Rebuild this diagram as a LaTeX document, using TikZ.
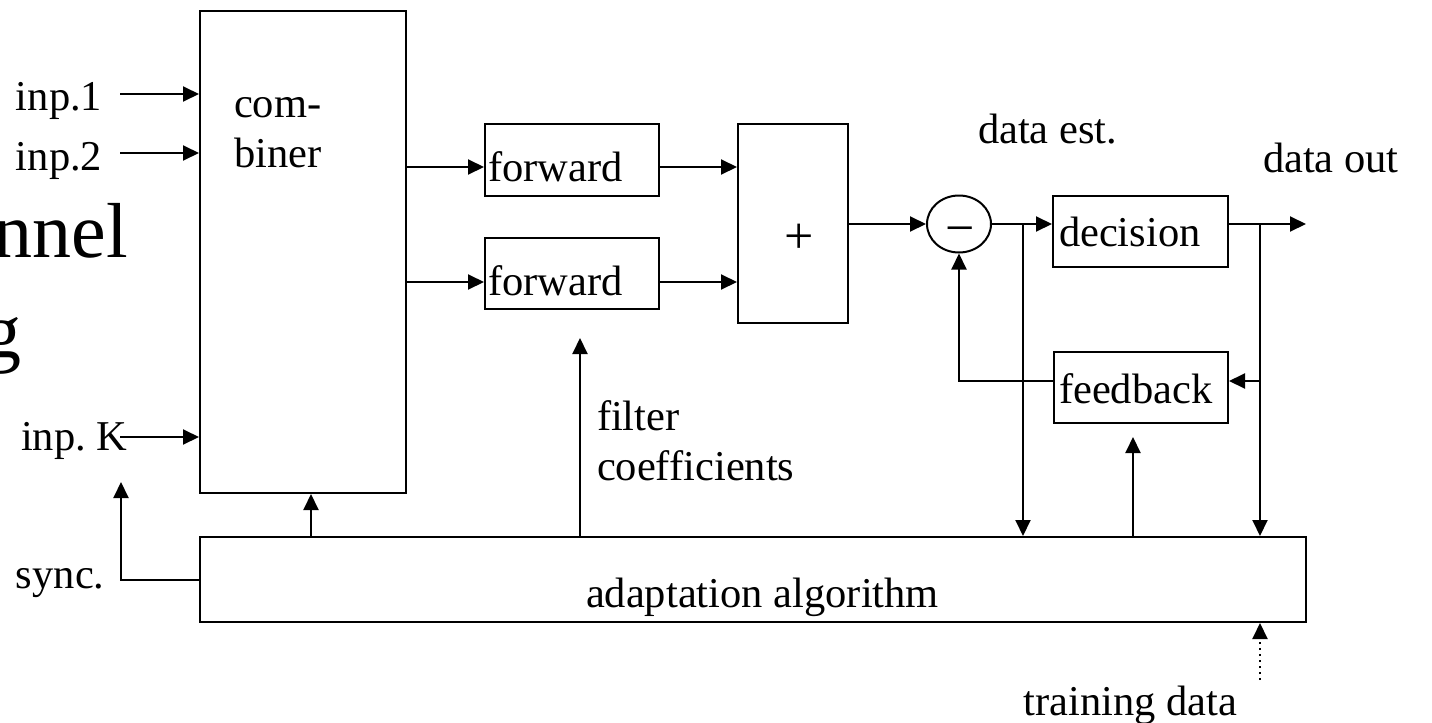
\documentclass[tikz,border=0pt]{standalone}
\usepackage{fontspec}
\setmainfont{Liberation Serif}
\usetikzlibrary{arrows.meta,shapes.geometric,calc}
\begin{document}
\frenchspacing
\begin{tikzpicture}[x=0.5pt,y=-0.5pt,
  line width=1pt,
  arr/.style={-{Triangle[length=8pt,width=7.5pt]}},
  blk/.style={draw,rectangle,inner sep=0pt,line width=1pt},
  lbl/.style={inner sep=0pt,font=\fontsize{21.25pt}{25pt}\selectfont},
  sym/.style={inner sep=0pt,font=\fontsize{26pt}{30pt}\selectfont},
  big/.style={inner sep=0pt,font=\fontsize{39pt}{46pt}\selectfont}]
\useasboundingbox (0,0) rectangle (1432,723);
\clip (0,0) rectangle (1432,723);

% title fragments at the left margin
\node[big,anchor=base east] (t1) at (129,257) {nnel};
\node[big,anchor=base east] (t2) at (22,357) {g};

% blocks
\node[blk,minimum width=103pt,minimum height=241pt] (comb) at (303,252) {};
\node[blk,minimum width=87pt,minimum height=36pt] (fwd1) at (572,160) {};
\node[blk,minimum width=87pt,minimum height=35.5pt] (fwd2) at (572,273.5) {};
\node[blk,minimum width=55pt,minimum height=99.5pt] (plus) at (793,223.5) {};
\node[draw,ellipse,inner sep=0pt,minimum width=32pt,minimum height=28.5pt] (sub) at (959,224) {};
\node[blk,minimum width=87.5pt,minimum height=35.5pt] (dec) at (1140.5,231.5) {};
\node[blk,minimum width=87pt,minimum height=35.5pt] (fb) at (1141,387.5) {};
\node[blk,minimum width=553pt,minimum height=42.5pt] (adapt) at (753,579.5) {};

% block texts
\node[lbl,anchor=base west] (tc1) at (233,117) {com-};
\node[lbl,anchor=base west] (tc2) at (233,167) {biner};
\node[lbl,anchor=base west] (tf1) at (487,181) {forward};
\node[lbl,anchor=base west] (tf2) at (487,295) {forward};
\node[sym,anchor=base] (tp) at (799,253) {+};
\node[sym,anchor=base] (tm) at (960,245) {−};
\node[lbl,anchor=base west] (td) at (1058,246) {decision};
\node[lbl,anchor=base west] (tfb) at (1058,403) {feedback};
\node[lbl,anchor=base west] (ta) at (585,607) {adaptation algorithm};

% free labels
\node[lbl,anchor=base west] (lin1) at (15,110) {inp.1};
\node[lbl,anchor=base west] (lin2) at (15,170) {inp.2};
\node[lbl,anchor=base west] (linK) at (20,450) {inp. K};
\node[lbl,anchor=base west] (lsync) at (15,588) {sync.};
\node[lbl,anchor=base west] (lfil) at (596,430) {filter};
\node[lbl,anchor=base west] (lcoef) at (596,480) {coefficients};
\node[lbl,anchor=base west] (lest) at (977,143) {data est.};
\node[lbl,anchor=base west] (lout) at (1262,172) {data out};
\node[lbl,anchor=base east] (ltr) at (1238,715) {training data};

% connector ends
\coordinate (s1) at (120,94);
\coordinate (s2) at (120,153);
\coordinate (sK) at (120,437);
\coordinate (b1) at (1023,224);
\coordinate (b2) at (1260,224);
\coordinate (out) at (1306,224);
\coordinate (fbtip) at (1133,437);
\coordinate (fctip) at (580,338);
\coordinate (cbx) at (311,0);
\coordinate (synctip) at (121,482);
\coordinate (train) at (1260,680);

% inputs to the combiner
\draw[arr] (s1) -- (s1 -| comb.west);
\draw[arr] (s2) -- (s2 -| comb.west);
\draw[arr] (sK) -- (sK -| comb.west);

% combiner to forward filters, forward filters to summer
\draw[arr] ([yshift=-3.5pt]fwd1.west -| comb.east) -- ([yshift=-3.5pt]fwd1.west);
\draw[arr] ([yshift=-4.25pt]fwd2.west -| comb.east) -- ([yshift=-4.25pt]fwd2.west);
\draw[arr] ([yshift=-3.5pt]fwd1.east) -- ([yshift=-3.5pt]fwd1.east -| plus.west);
\draw[arr] ([yshift=-4.25pt]fwd2.east) -- ([yshift=-4.25pt]fwd2.east -| plus.west);

% summer, subtractor, decision
\draw[arr] (plus.east |- sub.west) -- (sub.west);
\draw[arr] (sub.east) -- (sub.east -| dec.west);
\draw[arr] (dec.east |- sub.east) -- (out);

% taps down to the adaptation block
\draw[arr] (b1) -- (b1 |- adapt.north);
\draw[arr] (b2) -- (b2 |- adapt.north);

% feedback loop
\draw[arr] (b2 |- 0,381) -- (fb.east |- 0,381);
\draw[arr] (fb.west |- 0,381) -- (sub.south |- 0,381) -- (sub.south);

% adaptation outputs
\draw[arr] (fbtip |- adapt.north) -- (fbtip);
\draw[arr] (fctip |- adapt.north) -- (fctip);
\draw[arr] (cbx |- adapt.north) -- (cbx |- comb.south);
\draw[arr] (adapt.west) -| (synctip);

% training data input
\draw[arr,dotted] (train) -- (train |- adapt.south);
\end{tikzpicture}
\end{document}
